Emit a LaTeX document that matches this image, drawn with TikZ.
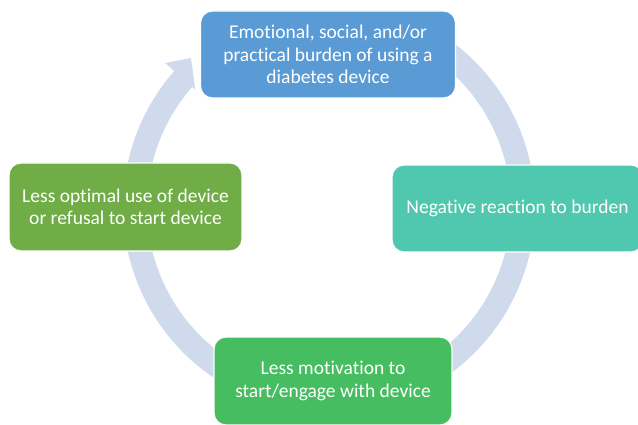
\documentclass[tikz,border=0pt]{standalone}
\usepackage{fontspec}
\setmainfont{Carlito}[Ligatures=NoCommon]
\usetikzlibrary{calc}
\definecolor{ringc}{HTML}{CFDAEC}
\definecolor{topblue}{HTML}{5B9BD5}
\definecolor{tealc}{HTML}{50C8B0}
\definecolor{leafgreen}{HTML}{70AD47}
\definecolor{brightgreen}{HTML}{47BD62}
\begin{document}
\begin{tikzpicture}[x=1pt,y=-1pt,
  stagebox/.style={rounded corners=12pt, draw=white, line width=1.2pt,
    text=white, align=center, inner sep=0pt,
    font=\fontsize{19.5}{22.5}\selectfont}]
\useasboundingbox (0,0) rectangle (638,425);
\clip (0,0) rectangle (638,425);

% cycle ring with its arrowhead
\coordinate (c) at (329,207);
\coordinate (tip) at (191,58);
\fill[ringc]
  ($(c)+(-60:206)$) arc[start angle=-60, end angle=221.3, radius=206]
  -- ($(c)+(221.3:218)$) -- (tip) -- ($(c)+(221.3:178)$)
  -- ($(c)+(221.3:182)$) arc[start angle=221.3, end angle=-60, radius=182]
  -- cycle;

% stages of the cycle
\node[stagebox, fill=topblue, minimum width=255pt, minimum height=87pt]
  (burden) at (328,54.5) {Emotional, social, and/or\\practical burden of using a\\diabetes device};
\node[stagebox, fill=tealc, minimum width=251pt, minimum height=87pt]
  (reaction) at (517.5,208.5) {Negative reaction to burden};
\node[stagebox, fill=brightgreen, minimum width=238pt, minimum height=88pt]
  (motivation) at (333,381) {Less motivation to\\start/engage with device};
\node[stagebox, fill=leafgreen, minimum width=233pt, minimum height=88pt]
  (use) at (125.5,207) {Less optimal use of device\\or refusal to start device};
\end{tikzpicture}
\end{document}
